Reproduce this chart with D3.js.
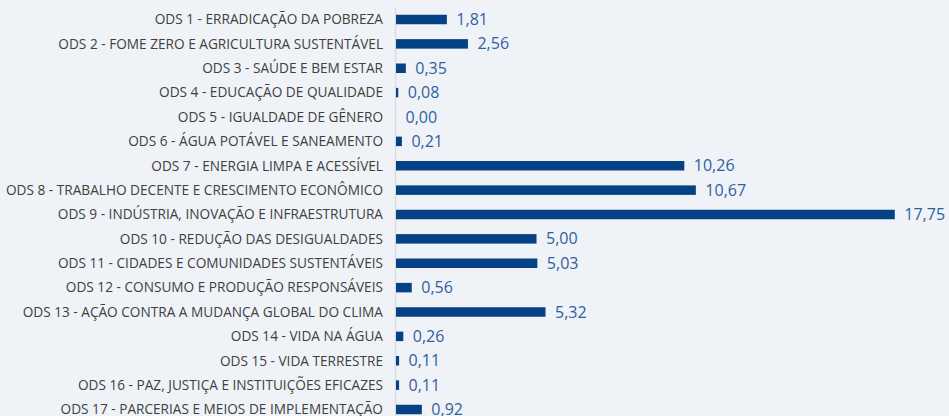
<!DOCTYPE html>
<html><head><meta charset="utf-8">
<script src="https://cdn.jsdelivr.net/npm/d3@7"></script>
<style>
html,body{margin:0;padding:0;background:#eff3f7;}
svg{display:block;}
</style></head>
<body>
<script>
const categories = [
  "ODS 1 - ERRADICAÇÃO DA POBREZA",
  "ODS 2 - FOME ZERO E AGRICULTURA SUSTENTÁVEL",
  "ODS 3 - SAÚDE E BEM ESTAR",
  "ODS 4 - EDUCAÇÃO DE QUALIDADE",
  "ODS 5 - IGUALDADE DE GÊNERO",
  "ODS 6 - ÁGUA POTÁVEL E SANEAMENTO",
  "ODS 7 - ENERGIA LIMPA E ACESSÍVEL",
  "ODS 8 - TRABALHO DECENTE E CRESCIMENTO ECONÔMICO",
  "ODS 9 - INDÚSTRIA, INOVAÇÃO E INFRAESTRUTURA",
  "ODS 10 - REDUÇÃO DAS DESIGUALDADES",
  "ODS 11 - CIDADES E COMUNIDADES SUSTENTÁVEIS",
  "ODS 12 - CONSUMO E PRODUÇÃO RESPONSÁVEIS",
  "ODS 13 - AÇÃO CONTRA A MUDANÇA GLOBAL DO CLIMA",
  "ODS 14 - VIDA NA ÁGUA",
  "ODS 15 - VIDA TERRESTRE",
  "ODS 16 - PAZ, JUSTIÇA E INSTITUIÇÕES EFICAZES",
  "ODS 17 - PARCERIAS E MEIOS DE IMPLEMENTAÇÃO"
];
const values = [1.81, 2.56, 0.35, 0.08, 0.00, 0.21, 10.26, 10.67, 17.75, 5.00, 5.03, 0.56, 5.32, 0.26, 0.11, 0.11, 0.92];

const W = 949, H = 416;
const svg = d3.select("body").append("svg").attr("width", W).attr("height", H);
svg.append("rect").attr("width", W).attr("height", H).attr("fill", "#eff3f7");

const x = d3.scaleLinear().domain([0, 17.75]).range([396, 894.8]);
const y = d3.scalePoint().domain(categories).range([19.5, 409.5]);
const barH = 9.5;
const fmt = v => d3.format(".2f")(v).replace(".", ",");

// axis line
svg.append("line")
  .attr("x1", 395.5).attr("x2", 395.5)
  .attr("y1", 8).attr("y2", H)
  .attr("stroke", "#d9dce0").attr("stroke-width", 1.5);

// category labels
svg.append("g").selectAll("text").data(categories).join("text")
  .attr("x", 383)
  .attr("y", d => y(d))
  .attr("dy", "0.35em")
  .attr("text-anchor", "end")
  .attr("font-family", "'Open Sans', sans-serif")
  .attr("font-size", 13.65)
  .attr("fill", "#404040")
  .text(d => d);

// bars
svg.append("g").selectAll("rect").data(values).join("rect")
  .attr("x", x(0))
  .attr("y", (d, i) => y(categories[i]) - barH / 2)
  .attr("width", d => x(d) - x(0))
  .attr("height", barH)
  .attr("fill", "#054285");

// value labels
svg.append("g").selectAll("text").data(values).join("text")
  .attr("x", d => x(d) + 9.5)
  .attr("y", (d, i) => y(categories[i]))
  .attr("dy", "0.35em")
  .attr("font-family", "'Open Sans', sans-serif")
  .attr("font-size", 16)
  .attr("fill", "#2f5f9f")
  .text(d => fmt(d));
</script>
</body></html>
